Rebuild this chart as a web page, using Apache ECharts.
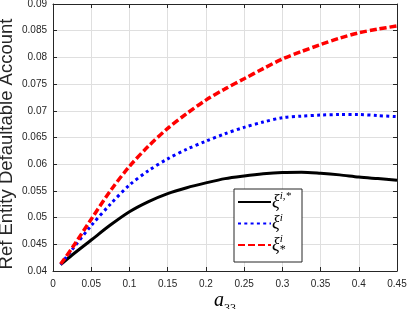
<!DOCTYPE html>
<html>
<head>
<meta charset="utf-8">
<script src="https://cdn.jsdelivr.net/npm/echarts@6/dist/echarts.min.js"></script>
<style>html,body{margin:0;padding:0;background:#fff;}#c{width:407px;height:309px;}</style>
</head>
<body>
<div id="c"></div>
<script>
const xs = [0.01, 0.025, 0.05, 0.075, 0.1, 0.125, 0.15, 0.175, 0.2, 0.225, 0.25, 0.275, 0.3, 0.325, 0.35, 0.375, 0.4, 0.425, 0.45];
const xiIStar = [0.0412, 0.0430, 0.0458, 0.0486, 0.0511, 0.0530, 0.0545, 0.0556, 0.0565, 0.0573, 0.0578, 0.0582, 0.05845, 0.0585, 0.0583, 0.0580, 0.0576, 0.0573, 0.0570];
const xiI = [0.0412, 0.0440, 0.0485, 0.0525, 0.0561, 0.0588, 0.0610, 0.0628, 0.0643, 0.0657, 0.0669, 0.0679, 0.0687, 0.0690, 0.0692, 0.0693, 0.0693, 0.0691, 0.0689];
const xiStarI = [0.0413, 0.0443, 0.0497, 0.0550, 0.0596, 0.0634, 0.0667, 0.0695, 0.0720, 0.0741, 0.0760, 0.0779, 0.0797, 0.0811, 0.0824, 0.0836, 0.0846, 0.0853, 0.0859];
const seriesNames = ['xiIStar', 'xiI', 'xiStarI'];
const legendLabels = {
  xiIStar: '{x|ξ}{sup|i,*}',
  xiI: '{x|ξ}{sup|i}',
  xiStarI: '{x|ξ}{supz|i}{sub|*}'
};
const xMin = 0, xMax = 0.45, xStep = 0.05;
const yMin = 0.04, yMax = 0.09, yStep = 0.005;

const pairs = ys => xs.map((x, i) => [x, ys[i]]);
const axisCol = '#262626';
const gridCol = '#dfdfdf';
const tickFont = {color: axisCol, fontSize: 10, fontFamily: 'Liberation Sans, Arial, sans-serif'};

const chart = echarts.init(document.getElementById('c'), null, {renderer: 'canvas'});
chart.setOption({
  animation: false,
  backgroundColor: '#fff',
  grid: {left: 53, right: 10, top: 4, bottom: 38, containLabel: false, outerBoundsMode: 'none'},
  xAxis: [{
    type: 'value', min: xMin, max: xMax, interval: xStep,
    axisLine: {show: true, onZero: false, lineStyle: {color: axisCol, width: 1}},
    axisTick: {show: true, inside: true, length: 4, lineStyle: {color: axisCol}},
    axisLabel: Object.assign({margin: 8}, tickFont),
    splitLine: {show: true, lineStyle: {color: gridCol, width: 1}},
    name: '{a|a}{s|33}', nameLocation: 'middle', nameGap: 20, nameMoveOverlap: false,
    nameTextStyle: {
      rich: {
        a: {fontFamily: 'Liberation Serif, serif', fontStyle: 'italic', fontSize: 20, color: '#000', lineHeight: 24, verticalAlign: 'top'},
        s: {fontFamily: 'Liberation Serif, serif', fontSize: 12, color: '#000', lineHeight: 14, verticalAlign: 'bottom'}
      }
    }
  }, {
    type: 'value', position: 'top', min: xMin, max: xMax, interval: xStep,
    axisLine: {show: true, onZero: false, lineStyle: {color: axisCol, width: 1}},
    axisTick: {show: true, inside: true, length: 4, lineStyle: {color: axisCol}},
    axisLabel: {show: false}, splitLine: {show: false}
  }],
  yAxis: [{
    type: 'value', min: yMin, max: yMax, interval: yStep,
    axisLine: {show: true, onZero: false, lineStyle: {color: axisCol, width: 1}},
    axisTick: {show: true, inside: true, length: 4, lineStyle: {color: axisCol}},
    axisLabel: Object.assign({margin: 6}, tickFont),
    splitLine: {show: true, lineStyle: {color: gridCol, width: 1}},
    name: 'Ref Entity Defaultable Account', nameLocation: 'middle', nameGap: 37, nameMoveOverlap: false,
    nameTextStyle: {color: axisCol, fontSize: 18.5, fontFamily: 'Liberation Sans, Arial, sans-serif', padding: [0, 13, 0, 0]}
  }, {
    type: 'value', position: 'right', min: yMin, max: yMax, interval: yStep,
    axisLine: {show: true, onZero: false, lineStyle: {color: axisCol, width: 1}},
    axisTick: {show: true, inside: true, length: 4, lineStyle: {color: axisCol}},
    axisLabel: {show: false}, splitLine: {show: false}
  }],
  legend: {
    orient: 'vertical', left: 234, top: 189,
    data: seriesNames,
    backgroundColor: '#fff', borderColor: axisCol, borderWidth: 1,
    padding: [2, 11, 6, 3], itemGap: 1.5, itemWidth: 33, itemHeight: 14,
    itemStyle: {opacity: 0},
    formatter: n => legendLabels[n],
    textStyle: {
      padding: [0, 0, 0, -4],
      rich: {
        x: {fontFamily: 'Liberation Serif, serif', fontStyle: 'italic', fontSize: 18, color: '#000', lineHeight: 22},
        sup: {fontFamily: 'Liberation Serif, serif', fontStyle: 'italic', fontSize: 11, color: '#000', lineHeight: 12, verticalAlign: 'top'},
        supz: {fontFamily: 'Liberation Serif, serif', fontStyle: 'italic', fontSize: 11, color: '#000', lineHeight: 12, verticalAlign: 'top', width: 0},
        sub: {fontFamily: 'Liberation Serif, serif', fontSize: 12, color: '#000', lineHeight: 12, verticalAlign: 'bottom'}
      }
    }
  },
  series: [{
    name: 'xiIStar', type: 'line', smooth: 0.3, symbol: 'none', data: pairs(xiIStar),
    lineStyle: {color: '#000000', width: 3, type: 'solid'}, itemStyle: {color: '#000000'}
  }, {
    name: 'xiI', type: 'line', smooth: 0.3, symbol: 'none', data: pairs(xiI),
    lineStyle: {color: '#0000ff', width: 3, type: [3, 3.3], cap: 'butt'}, itemStyle: {color: '#0000ff'}
  }, {
    name: 'xiStarI', type: 'line', smooth: 0.3, symbol: 'none', data: pairs(xiStarI),
    lineStyle: {color: '#ff0000', width: 3.5, type: [7, 3], cap: 'butt'}, itemStyle: {color: '#ff0000'}
  }]
});
</script>
</body>
</html>
